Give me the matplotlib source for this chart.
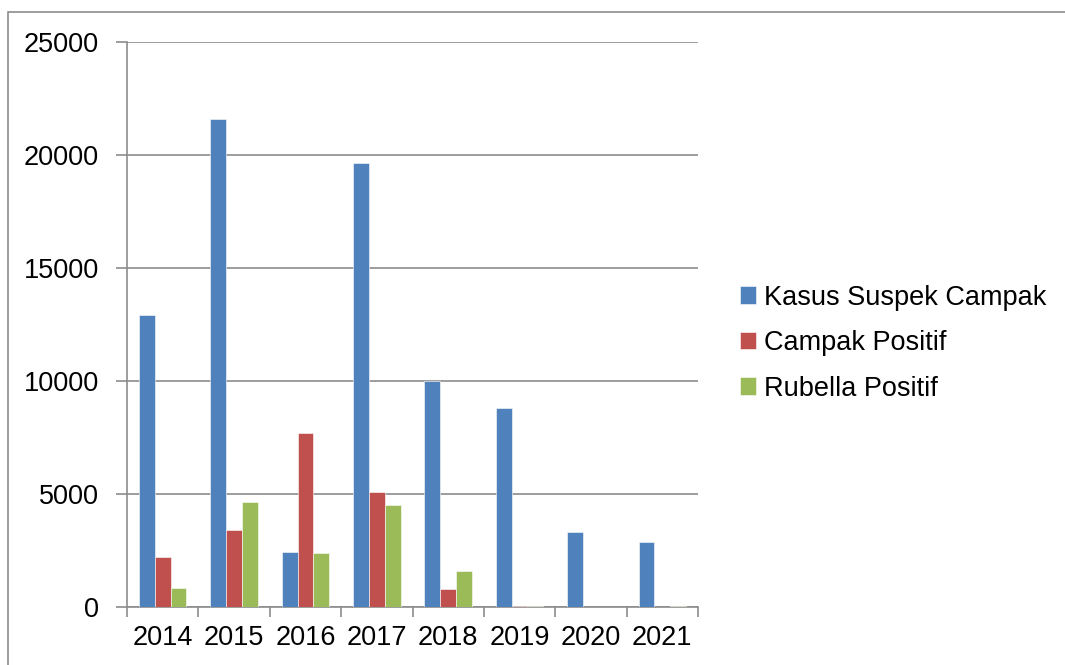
import matplotlib
matplotlib.use("Agg")
import matplotlib.pyplot as plt
import numpy as np
from matplotlib.patches import Rectangle

plt.rcParams['font.family'] = ['Liberation Sans', 'DejaVu Sans']

years = ['2014', '2015', '2016', '2017', '2018', '2019', '2020', '2021']
suspek = [12920, 21600, 2450, 19640, 10000, 8800, 3340, 2880]
campak = [2200, 3400, 7720, 5090, 800, 40, 20, 20]
rubella = [860, 4640, 2410, 4500, 1610, 25, 15, 25]
series_names = ['Kasus Suspek Campak', 'Campak Positif', 'Rubella Positif']
colors = ['#4F81BD', '#C0504D', '#9BBB59']

fig = plt.figure(figsize=(10.65, 6.65), dpi=100)
ax = fig.add_axes([127/1065, 1-607/665, (698-127)/1065, (607-42)/665])

# outer chart border
fig.patches.append(Rectangle((8/1065, -0.05), 1.2, 1-12/665+0.05,
                             transform=fig.transFigure, fill=False,
                             edgecolor='#8c8c8c', linewidth=1.2, clip_on=False))

x = np.arange(len(years))
w = 1/4.5
for i, (vals, name, c) in enumerate(zip([suspek, campak, rubella], series_names, colors)):
    ax.bar(x + (i-1)*w, vals, width=w, color=c, label=name,
           edgecolor='white', linewidth=0.4, zorder=3)

ax.set_xlim(-0.5, len(years)-0.5)
ax.set_ylim(0, 25000)
ax.set_yticks(range(0, 25001, 5000))
ax.set_yticklabels([str(v) for v in range(0, 25001, 5000)])
ax.yaxis.grid(True, color='#8c8c8c', linewidth=1.2, zorder=0)
ax.set_axisbelow(True)

ax.set_xticks(x)
ax.set_xticklabels(years)
ax.set_xticks(np.arange(-0.5, len(years)), minor=True)
ax.tick_params(axis='x', which='major', length=0, pad=13, labelsize=19.5, labelcolor='black')
ax.tick_params(axis='x', which='minor', length=7, width=1.2, color='#8c8c8c', direction='out')
ax.tick_params(axis='y', which='major', length=8, width=1.2, color='#8c8c8c', direction='out',
               pad=12, labelsize=19.5)

for s in ['top', 'right']:
    ax.spines[s].set_visible(False)
for s in ['left', 'bottom']:
    ax.spines[s].set_color('#8c8c8c')
    ax.spines[s].set_linewidth(1.2)

leg = ax.legend(loc='center left', bbox_to_anchor=(1.073, 0.467), frameon=False,
                fontsize=19.5, handlelength=0.6, handleheight=0.6, handletextpad=0.3,
                labelspacing=0.72, borderpad=0, borderaxespad=0)

fig.savefig('out.png', dpi=100)
